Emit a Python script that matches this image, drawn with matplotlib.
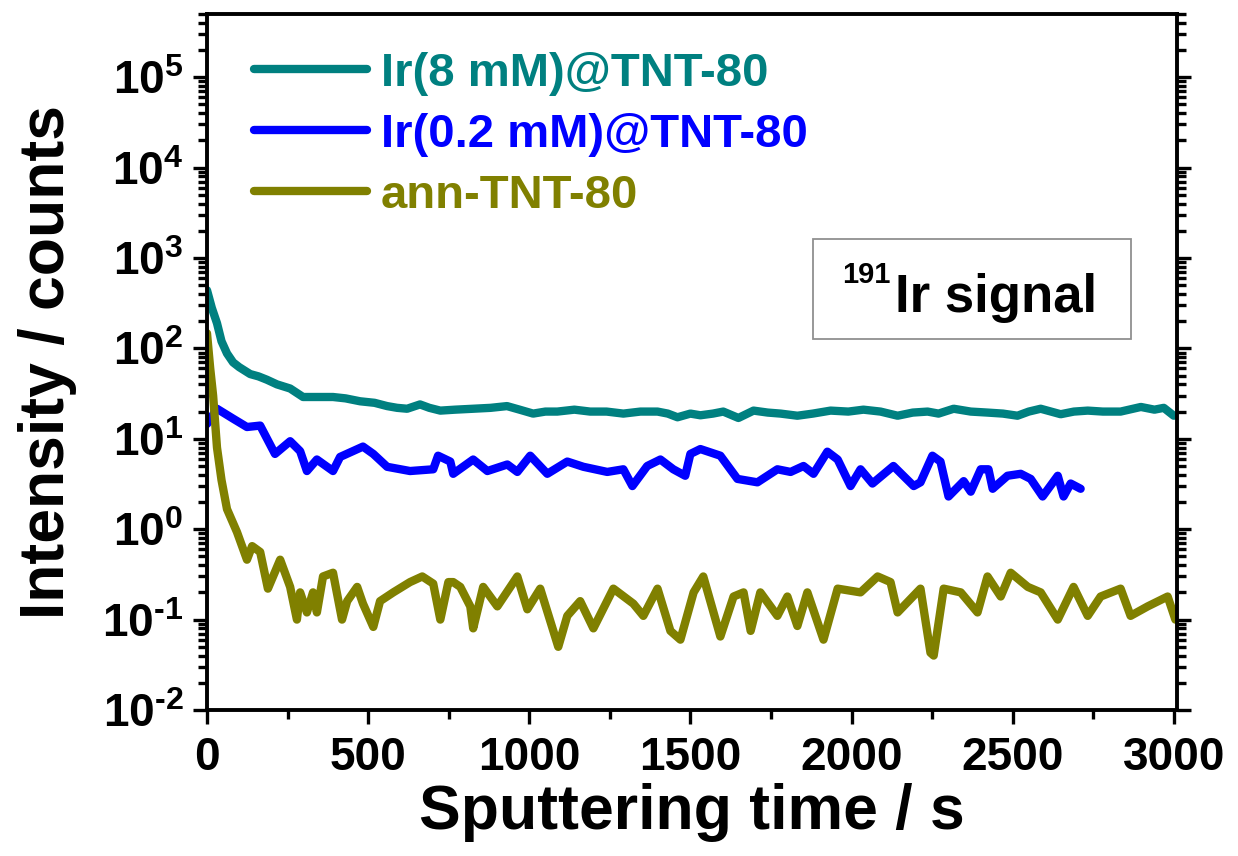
import numpy as np
import matplotlib
matplotlib.use("Agg")
import matplotlib.pyplot as plt
from matplotlib.ticker import LogLocator, FuncFormatter, MultipleLocator
from matplotlib.patches import Rectangle

plt.rcParams['font.family'] = ['Liberation Sans', 'DejaVu Sans']
plt.rcParams['font.weight'] = 'bold'
plt.rcParams['axes.labelweight'] = 'bold'
plt.rcParams['mathtext.fontset'] = 'custom'
plt.rcParams['mathtext.rm'] = 'Liberation Sans:bold'
plt.rcParams['mathtext.bf'] = 'Liberation Sans:bold'

# --- Data ---
labels = ["Ir(8 mM)@TNT-80", "Ir(0.2 mM)@TNT-80", "ann-TNT-80"]
colors = ["#008080", "#0000ff", "#808000"]

t_8mm = [0, 15, 31, 45, 62, 81, 100, 134, 160, 186, 217, 258, 298, 340, 391, 430, 475, 520,
         559, 590, 621, 661, 690, 724, 770, 826, 880, 931, 970, 1012, 1050, 1087, 1140, 1189,
         1240, 1292, 1345, 1398, 1430, 1460, 1500, 1531, 1570, 1602, 1649, 1696, 1740, 1780,
         1832, 1880, 1935, 1990, 2037, 2090, 2143, 2190, 2236, 2270, 2317, 2370, 2422, 2470,
         2515, 2550, 2587, 2649, 2690, 2733, 2780, 2835, 2898, 2940, 2969, 3000]
i_8mm = [440, 280, 190, 120, 88, 70, 62, 52, 49, 45, 40, 36, 29, 29, 29, 28, 26, 25,
         23, 22, 21.5, 24, 22, 20.5, 21, 21.5, 22, 23, 21, 19, 20, 20, 21, 20,
         20, 19, 20, 20, 19, 17.3, 19, 18.2, 19, 20, 17, 20.5, 19.5, 19,
         18, 19, 20.5, 20, 21, 20, 18, 19.5, 20, 19, 21.5, 20, 19.5, 19,
         18, 20, 21.5, 18.7, 20, 20.5, 20, 20, 22.5, 21, 22, 18]

t_02mm = [0, 31, 81, 124, 165, 211, 258, 289, 310, 341, 391, 413, 484, 516, 559, 630, 702,
          717, 755, 764, 826, 870, 932, 963, 1003, 1056, 1118, 1168, 1242, 1292, 1320, 1366,
          1407, 1447, 1484, 1500, 1531, 1593, 1646, 1708, 1770, 1811, 1851, 1882, 1925, 1957,
          1997, 2028, 2065, 2130, 2193, 2214, 2251, 2276, 2301, 2348, 2370, 2401, 2425, 2438,
          2484, 2525, 2556, 2593, 2640, 2658, 2680, 2711]
i_02mm = [14.6, 21.5, 16.7, 13.5, 14, 6.8, 9.4, 7.3, 4.4, 5.9, 4.4, 6.3, 8.2, 6.8, 4.9, 4.4, 4.6,
          6.5, 5.6, 4.1, 5.9, 4.4, 5.2, 4.3, 6.5, 4.1, 5.6, 4.9, 4.3, 4.6, 3.0, 5.0,
          5.9, 4.6, 3.9, 6.8, 7.7, 6.5, 3.6, 3.3, 4.6, 4.3, 5.0, 4.1, 7.2, 5.9,
          3.0, 4.6, 3.2, 5.0, 3.0, 3.3, 6.5, 5.6, 2.3, 3.4, 2.6, 4.6, 4.6, 2.8,
          3.9, 4.1, 3.6, 2.3, 3.9, 2.3, 3.2, 2.8]

t_ann = [0, 10, 19, 31, 45, 62, 93, 124, 140, 165, 189, 227, 258, 279, 289, 310, 329, 341, 360,
         391, 419, 435, 466, 484, 516, 537, 578, 630, 668, 702, 724, 749, 764, 786, 817, 826,
         857, 901, 963, 994, 1034, 1090, 1118, 1158, 1199, 1261, 1323, 1354, 1398, 1438, 1469,
         1510, 1540, 1593, 1634, 1665, 1687, 1717, 1770, 1801, 1832, 1863, 1913, 1957, 2028,
         2081, 2121, 2143, 2214, 2245, 2255, 2286, 2339, 2391, 2422, 2463, 2494, 2547, 2587,
         2640, 2689, 2733, 2773, 2835, 2866, 2919, 2981, 3005]
i_ann = [147, 60, 30, 8, 3.5, 1.67, 0.93, 0.46, 0.65, 0.56, 0.22, 0.46, 0.23, 0.10, 0.2, 0.12, 0.2, 0.12, 0.3,
         0.33, 0.1, 0.16, 0.23, 0.15, 0.083, 0.16, 0.2, 0.26, 0.3, 0.25, 0.10, 0.26, 0.26, 0.23, 0.14, 0.08,
         0.23, 0.14, 0.3, 0.13, 0.22, 0.05, 0.11, 0.16, 0.08, 0.22, 0.15, 0.11, 0.22, 0.075, 0.06,
         0.2, 0.3, 0.065, 0.18, 0.2, 0.075, 0.2, 0.11, 0.18, 0.085, 0.2, 0.06, 0.22, 0.2,
         0.3, 0.26, 0.12, 0.22, 0.043, 0.04, 0.22, 0.2, 0.12, 0.3, 0.18, 0.33, 0.23, 0.2,
         0.1, 0.23, 0.11, 0.18, 0.22, 0.11, 0.14, 0.18, 0.1]

series = [(t_8mm, i_8mm), (t_02mm, i_02mm), (t_ann, i_ann)]

# --- Figure ---
fig = plt.figure(figsize=(12.38, 8.56), dpi=100)
ax = fig.add_axes([207 / 1238, 1 - 710 / 856, 970 / 1238, 696 / 856])

for (t, y), lab, c in zip(series, labels, colors):
    ax.plot(t, y, color=c, lw=6, label=lab, solid_joinstyle='round', solid_capstyle='round')

ax.set_yscale('log')
ax.set_ylim(1e-2, 5e5)
ax.set_xlim(0, 3010)

def log_label(v, pos):
    e = int(round(np.log10(v)))
    ex = str(e).replace('-', '\u2010')
    return r"$\mathbf{10^{%s}}$" % ex

ax.xaxis.set_major_locator(MultipleLocator(500))
ax.xaxis.set_minor_locator(MultipleLocator(250))
ax.yaxis.set_major_locator(LogLocator(base=10, numticks=20))
ax.yaxis.set_minor_locator(LogLocator(base=10, subs=np.arange(2, 10), numticks=20))
ax.yaxis.set_major_formatter(FuncFormatter(log_label))

for s in ax.spines.values():
    s.set_linewidth(2.8)
ax.tick_params(which='both', direction='out', width=2.4, right=True, top=False, labelsize=33)
ax.tick_params(which='major', length=10, pad=7)
ax.tick_params(which='minor', length=6.5)
ax.tick_params(axis='x', which='major', pad=9)

ax.set_xlabel("Sputtering time / s", fontsize=45, labelpad=2)
ax.set_ylabel("Intensity / counts", fontsize=45, labelpad=18)

leg = ax.legend(loc='upper left', bbox_to_anchor=(0.048, 0.946), frameon=False, fontsize=34,
                handlelength=2.4, handletextpad=0.3, labelspacing=0.36, borderpad=0, borderaxespad=0,
                labelcolor='linecolor')

# --- isotope label box ---
ax.add_patch(Rectangle((0.6247, 0.533), 0.328, 0.1437, transform=ax.transAxes,
                       facecolor='white', edgecolor='#909090', lw=1.3, zorder=5))
ax.text(0.7093, 0.5718, "Ir signal", transform=ax.transAxes, fontsize=38,
        ha='left', va='baseline', zorder=6)
ax.text(0.6546, 0.6135, "191", transform=ax.transAxes, fontsize=21,
        ha='left', va='baseline', zorder=6)

fig.savefig("out.png", dpi=100)
